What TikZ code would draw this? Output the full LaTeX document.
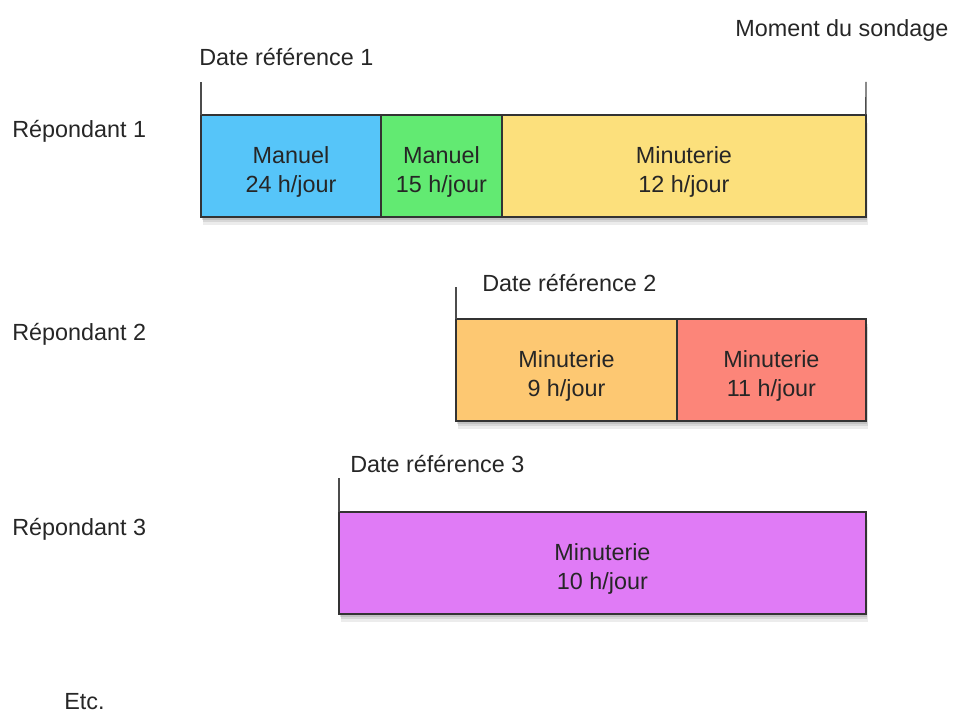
\documentclass[tikz,border=0pt]{standalone}
\usepackage{fontspec}
\setmainfont{Liberation Sans}
\usetikzlibrary{positioning,shadows}
\definecolor{bleu}{HTML}{56C5F9}
\definecolor{vert}{HTML}{62EA72}
\definecolor{jaune}{HTML}{FCE07C}
\definecolor{orange}{HTML}{FDC872}
\definecolor{rouge}{HTML}{FC8579}
\definecolor{violet}{HTML}{E07BF6}

\begin{document}
\begin{tikzpicture}[x=0.02cm,y=-0.02cm,
	font=\fontsize{13.3}{16.5}\selectfont,
	lbl/.style={anchor=west,inner sep=0pt,text=black!85},
	seg/.style={draw=black!80,line width=0.9pt,minimum height=2.04cm,inner sep=0pt,outer sep=0pt,
		align=center,text=black!85,text height=30pt,text depth=0pt,
		drop shadow={opacity=0.25,shadow xshift=0.6pt,shadow yshift=-1.5pt},
		drop shadow={opacity=0.2,shadow xshift=0.9pt,shadow yshift=-3pt},
		drop shadow={opacity=0.15,shadow xshift=1.2pt,shadow yshift=-4.5pt}},
	tick/.style={black!70,line width=0.8pt}]
	
	\useasboundingbox (0,0) rectangle (963,715);
	
	% Respondents
	\node[lbl] (rep1) at (12,131) {Répondant 1};
	\node[lbl] (rep2) at (12,334) {Répondant 2};
	\node[lbl] (rep3) at (12,529) {Répondant 3};
	\node[lbl] (etc) at (64,702) {Etc.};
	
	% Respondent 1
	\node[seg,fill=bleu,minimum width=3.6cm,anchor=north west] (man24) at (201,115) {Manuel\\24 h/jour};
	\node[seg,fill=vert,minimum width=2.42cm,right=0pt of man24] (man15) {Manuel\\15 h/jour};
	\node[seg,fill=jaune,minimum width=7.28cm,right=0pt of man15] (min12) {Minuterie\\12 h/jour};
	
	% Respondent 2
	\node[seg,fill=orange,minimum width=4.42cm,anchor=north west] (min9) at (456,319) {Minuterie\\9 h/jour};
	\node[seg,fill=rouge,minimum width=3.78cm,right=0pt of min9] (min11) {Minuterie\\11 h/jour};
	
	% Respondent 3
	\node[seg,fill=violet,minimum width=10.54cm,anchor=north west] (min10) at (339,512) {Minuterie\\10 h/jour};
	
	% Reference dates and survey moment
	\coordinate (top1) at (201,82);
	\coordinate (topm) at (866,82);
	\coordinate (top2) at (456,287);
	\coordinate (top3) at (339,478);
	\draw[tick] (man24.north west) -- (top1);
	\draw[tick] (min12.north east) -- (topm);
	\draw[tick] (min9.north west) -- (top2);
	\draw[tick] (min10.north west) -- (top3);
	
	\node[lbl] (date1) at (199,57) {Date référence 1};
	\node[lbl] (sondage) at (735,30) {Moment du sondage};
	\node[lbl] (date2) at (482,283) {Date référence 2};
	\node[lbl] (date3) at (350,464) {Date référence 3};
\end{tikzpicture}
\end{document}
